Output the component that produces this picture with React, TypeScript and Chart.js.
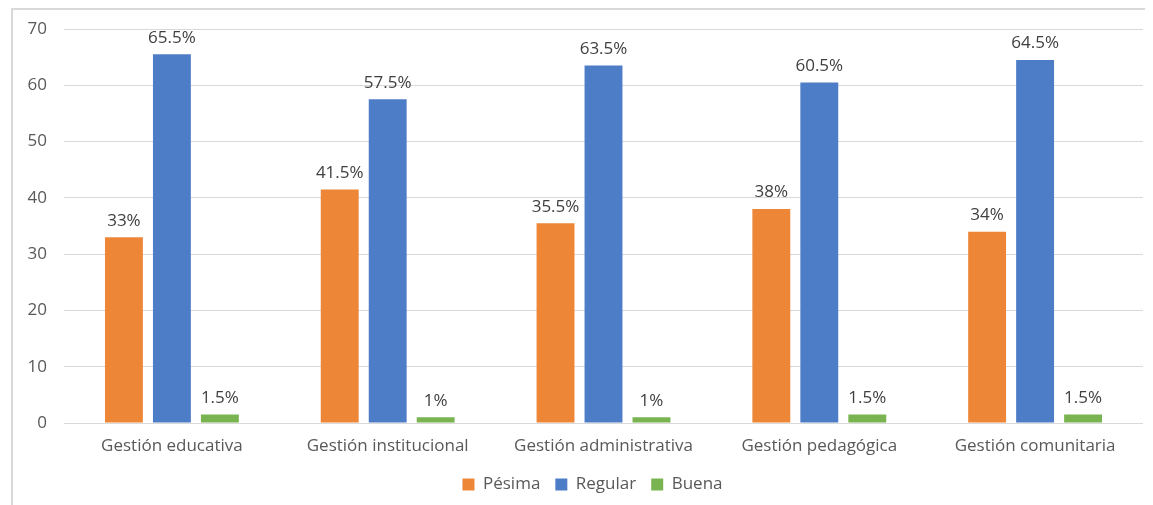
import React, { useEffect, useRef } from "react";
import { Chart, registerables } from "chart.js";

Chart.register(...registerables);

const categories = [
  "Gestión educativa",
  "Gestión institucional",
  "Gestión administrativa",
  "Gestión pedagógica",
  "Gestión comunitaria",
];
const seriesNames = ["Pésima", "Regular", "Buena"];
const pesima = [33, 41.5, 35.5, 38, 34];
const regular = [65.5, 57.5, 63.5, 60.5, 64.5];
const buena = [1.5, 1, 1, 1.5, 1.5];
const yTicks = [0, 10, 20, 30, 40, 50, 60, 70];

const colors = ["#ED8637", "#4E7DC8", "#79B451"];
const FONT = "'Open Sans', 'Noto Sans', sans-serif";

const labelPlugin = {
  id: "valueLabels",
  afterDatasetsDraw(chart: any) {
    const ctx = chart.ctx;
    ctx.save();
    ctx.font = `17px ${FONT}`;
    ctx.fillStyle = "#404040";
    ctx.textAlign = "center";
    ctx.textBaseline = "bottom";
    chart.data.datasets.forEach((ds: any, i: number) => {
      const meta = chart.getDatasetMeta(i);
      meta.data.forEach((bar: any, j: number) => {
        ctx.fillText(`${ds.data[j]}%`, bar.x, bar.y - 8);
      });
    });
    ctx.restore();
  },
};

const framePlugin = {
  id: "frame",
  beforeDraw(chart: any) {
    const ctx = chart.ctx;
    ctx.save();
    ctx.fillStyle = "#ffffff";
    ctx.fillRect(0, 0, chart.width, chart.height);
    ctx.strokeStyle = "#D9D9D9";
    ctx.lineWidth = 2;
    ctx.beginPath();
    ctx.moveTo(4, chart.height);
    ctx.lineTo(4, 1);
    ctx.lineTo(chart.width, 1);
    ctx.stroke();
    ctx.restore();
  },
};

const legendShiftPlugin = {
  id: "legendShift",
  afterLayout(chart: any) {
    const lg = chart.legend;
    if (lg) {
      lg.left += 17;
      lg.right += 17;
    }
  },
};

export default function App() {
  const ref = useRef<HTMLCanvasElement>(null);
  useEffect(() => {
    if (!ref.current) return;
    const data = [pesima, regular, buena];
    const chart = new Chart(ref.current, {
      type: "bar",
      data: {
        labels: categories,
        datasets: seriesNames.map((name, i) => ({
          label: name,
          data: data[i],
          backgroundColor: colors[i],
          borderWidth: 0,
          categoryPercentage: 0.667,
          barPercentage: 0.79,
        })),
      },
      options: {
        animation: false,
        responsive: false,
        maintainAspectRatio: false,
        layout: { padding: { left: 0, right: 10, top: 21, bottom: 2 } },
        plugins: {
          legend: {
            position: "bottom",
            labels: {
              boxWidth: 12,
              boxHeight: 12,
              padding: 15,
              color: "#595959",
              font: { family: FONT, size: 17 },
            },
          },
          tooltip: { enabled: false },
        },
        scales: {
          x: {
            grid: { display: false },
            border: { display: false },
            ticks: {
              color: "#595959",
              font: { family: FONT, size: 17 },
              padding: 5,
            },
            afterFit(scale: any) {
              scale.height = 38;
              scale.paddingLeft = 0;
              scale.paddingRight = 0;
            },
          },
          y: {
            min: 0,
            max: 70,
            afterBuildTicks(scale: any) {
              scale.ticks = yTicks.map((v) => ({ value: v }));
            },
            grid: { color: "#D9D9D9", lineWidth: 1, drawTicks: false },
            border: { display: false },
            ticks: {
              color: "#595959",
              font: { family: FONT, size: 17 },
              padding: 17,
            },
            afterFit(scale: any) {
              scale.width = 56;
              scale.paddingTop = 0;
              scale.paddingBottom = 0;
            },
          },
        },
      } as any,
      plugins: [framePlugin, labelPlugin, legendShiftPlugin],
    });
    return () => chart.destroy();
  }, []);
  return (
    <div style={{ width: 1145, height: 497 }}>
      <canvas ref={ref} width={1145} height={497} style={{ width: 1145, height: 497, display: "block" }} />
    </div>
  );
}
